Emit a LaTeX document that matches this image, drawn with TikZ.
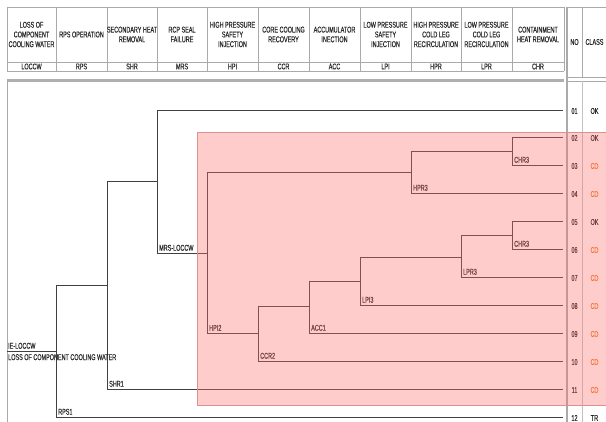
\documentclass[tikz,border=0pt]{standalone}
\usepackage{fontspec}
\setmainfont{Liberation Sans}[FakeStretch=0.65,FakeBold=0.25]
\definecolor{grid}{RGB}{170,170,170}
\definecolor{band}{RGB}{175,175,175}
\definecolor{treeline}{RGB}{65,65,65}
\definecolor{pinkfill}{RGB}{255,110,110}
\definecolor{pinkedge}{RGB}{220,145,145}
\definecolor{cdorange}{RGB}{240,125,40}
\definecolor{txt}{RGB}{40,40,40}
\begin{document}
\begin{tikzpicture}[x=1pt,y=-1pt,
  every node/.style={font=\fontsize{8.4}{9.7}\selectfont, text=txt, inner sep=0pt},
  gridline/.style={draw=grid, line width=0.8pt},
  branch/.style={draw=treeline, line width=0.8pt},
  lbl/.style={anchor=south west, xshift=2pt, yshift=2pt},
  hdr/.style={align=center},
  cls/.style={text=txt},
  cdcls/.style={text=cdorange}
]
\useasboundingbox (0,0) rectangle (606,422);
\fill[white] (0,0) rectangle (606,422);

% ---------- header table ----------
\foreach \x in {7,56,107,157,207,258,309,360,411,461,512,564}
  \draw[gridline] (\x,7) -- (\x,71);
\foreach \y in {7,62,71}
  \draw[gridline] (7,\y) -- (564,\y);
\node[hdr] (h1) at (31.5,34.5) {LOSS OF\\COMPONENT\\COOLING WATER};
\node[hdr] (h2) at (81.5,34.5) {RPS OPERATION};
\node[hdr] (h3) at (132,34.5) {SECONDARY HEAT\\REMOVAL};
\node[hdr] (h4) at (182,34.5) {RCP SEAL\\FAILURE};
\node[hdr] (h5) at (232.5,34.5) {HIGH PRESSURE\\SAFETY\\INJECTION};
\node[hdr] (h6) at (283.5,34.5) {CORE COOLING\\RECOVERY};
\node[hdr] (h7) at (334.5,34.5) {ACCUMULATOR\\INECTION};
\node[hdr] (h8) at (385.5,34.5) {LOW PRESSURE\\SAFETY\\INJECTION};
\node[hdr] (h9) at (436,34.5) {HIGH PRESSURE\\COLD LEG\\RECIRCULATION};
\node[hdr] (h10) at (486.5,34.5) {LOW PRESSURE\\COLD LEG\\RECIRCULATION};
\node[hdr] (h11) at (538,34.5) {CONTAINMENT\\HEAT REMOVAL};
\node (s1) at (31.5,66.5) {LOCCW};
\node (s2) at (81.5,66.5) {RPS};
\node (s3) at (132,66.5) {SHR};
\node (s4) at (182,66.5) {MRS};
\node (s5) at (232.5,66.5) {HPI};
\node (s6) at (283.5,66.5) {CCR};
\node (s7) at (334.5,66.5) {ACC};
\node (s8) at (385.5,66.5) {LPI};
\node (s9) at (436,66.5) {HPR};
\node (s10) at (486.5,66.5) {LPR};
\node (s11) at (538,66.5) {CHR};

% NO / CLASS header
\draw[gridline] (567,7) -- (606,7);
\draw[gridline] (582,7) -- (582,77);
\draw[gridline] (567,77) -- (606,77);
\draw[gridline] (567,81) -- (606,81);
\draw[draw=grid!70, line width=0.6pt] (582,81) -- (582,422);
\node (hno) at (574.5,42) {NO};
\node (hcl) at (594.5,42) {CLASS};

% band under header and body frame
\draw[draw=band, line width=2.4pt] (7,80.5) -- (564,80.5);
\draw[gridline] (7,80) -- (7,422);
\draw[draw=grid, line width=1.6pt] (567,7) -- (567,422);

% ---------- tree ----------
\coordinate (ie) at (7,351);
\coordinate (rps) at (56,351);
\coordinate (shr) at (107,285);
\coordinate (mrs) at (157,181);
\coordinate (hpi) at (207,253);
\coordinate (hpr) at (411,172);
\coordinate (chrA) at (512,151);
\coordinate (ccr) at (258,333);
\coordinate (acc) at (309,306);
\coordinate (lpi) at (360,281);
\coordinate (lpr) at (461,257);
\coordinate (chrB) at (512,235);
\foreach \n/\y in {01/110,02/137,03/165,04/193,05/221,06/249,07/277,08/305,09/333,10/361,11/389,12/417}
  \coordinate (e\n) at (563,\y);

\draw[branch] (ie) -- (rps);
\draw[branch] (rps) |- (shr);  \draw[branch] (rps) |- (e12);
\draw[branch] (shr) |- (mrs);  \draw[branch] (shr) |- (e11);
\draw[branch] (mrs) |- (e01);  \draw[branch] (mrs) |- (hpi);
\draw[branch] (hpi) |- (hpr);  \draw[branch] (hpi) |- (ccr);
\draw[branch] (hpr) |- (chrA); \draw[branch] (hpr) |- (e04);
\draw[branch] (chrA) |- (e02); \draw[branch] (chrA) |- (e03);
\draw[branch] (ccr) |- (acc);  \draw[branch] (ccr) |- (e10);
\draw[branch] (acc) |- (lpi);  \draw[branch] (acc) |- (e09);
\draw[branch] (lpi) |- (lpr);  \draw[branch] (lpi) |- (e08);
\draw[branch] (lpr) |- (chrB); \draw[branch] (lpr) |- (e07);
\draw[branch] (chrB) |- (e05); \draw[branch] (chrB) |- (e06);

% branch labels
\node[anchor=south west, xshift=1pt, yshift=2pt] (lie) at (ie) {IE-LOCCW};
\node[anchor=north west, xshift=1pt, yshift=-3pt] (lloss) at (ie) {LOSS OF COMPONENT COOLING WATER};
\node[lbl] (lrps) at (rps |- e12) {RPS1};
\node[lbl] (lshr) at (shr |- e11) {SHR1};
\node[lbl] (lmrs) at (mrs |- hpi) {MRS-LOCCW};
\node[lbl] (lhpi) at (hpi |- ccr) {HPI2};
\node[lbl] (lccr) at (ccr |- e10) {CCR2};
\node[lbl] (lacc) at (acc |- e09) {ACC1};
\node[lbl] (llpi) at (lpi |- e08) {LPI3};
\node[lbl] (llpr) at (lpr |- e07) {LPR3};
\node[lbl] (lchrB) at (chrB |- e06) {CHR3};
\node[lbl] (lhpr) at (hpr |- e04) {HPR3};
\node[lbl] (lchrA) at (chrA |- e03) {CHR3};

% sequence numbers and classes
\foreach \n/\y/\c/\s in {01/110/OK/cls,02/137/OK/cls,03/165/CD/cdcls,04/193/CD/cdcls,
  05/221/OK/cls,06/249/CD/cdcls,07/277/CD/cdcls,08/305/CD/cdcls,09/333/CD/cdcls,
  10/361/CD/cdcls,11/389/CD/cdcls,12/417/TR/cls}{
  \node (no\n) at (574.5,\y+1) {\n};
  \node[\s] (cl\n) at (594.5,\y+1) {\c};
}

% ---------- core damage region ----------
\fill[pinkfill, fill opacity=0.35] (197,132) rectangle (606,405);
\draw[pinkedge, line width=0.8pt] (606,132) -- (197,132) -- (197,405) -- (606,405);
\end{tikzpicture}
\end{document}
